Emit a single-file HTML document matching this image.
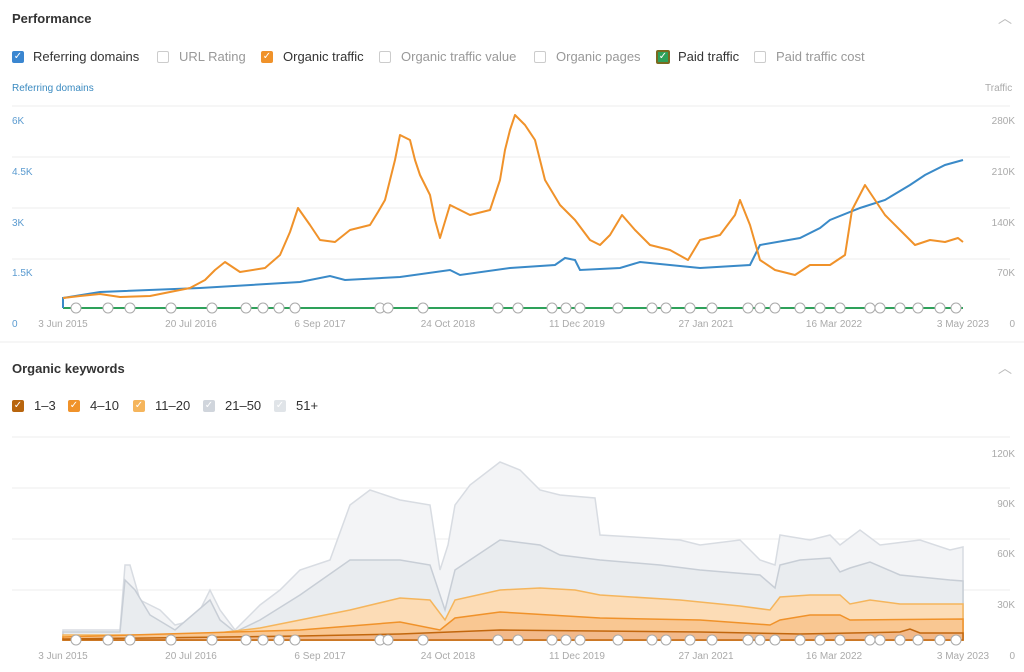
<!DOCTYPE html>
<html><head><meta charset="utf-8"><style>
body{margin:0;width:1024px;height:672px;background:#fff;font-family:"Liberation Sans",sans-serif;overflow:hidden;position:relative}
.t{position:absolute;white-space:nowrap}
.h{font-weight:bold;font-size:13px;color:#333}
.cb{position:absolute;width:12px;height:12px;border-radius:2px;box-sizing:border-box;color:#fff;font-size:10px;line-height:12px;text-align:center;font-family:"DejaVu Sans",sans-serif}
.lg{font-size:13px;color:#333}
.lgo{font-size:13px;color:#999}
</style></head><body>
<div class="t h" style="left:12px;top:11px">Performance</div>
<div class="t" style="left:998px;top:8px;color:#bbb;font-size:14px">︿</div>
<div class="cb" style="left:12px;top:51px;background:#3a86d0">✓</div><div class="t lg" style="left:33px;top:49px">Referring domains</div>
<div class="cb" style="left:157px;top:51px;border:1px solid #ccc"></div><div class="t lgo" style="left:179px;top:49px">URL Rating</div>
<div class="cb" style="left:261px;top:51px;background:#f0922a">✓</div><div class="t lg" style="left:283px;top:49px">Organic traffic</div>
<div class="cb" style="left:379px;top:51px;border:1px solid #ccc"></div><div class="t lgo" style="left:401px;top:49px">Organic traffic value</div>
<div class="cb" style="left:534px;top:51px;border:1px solid #ccc"></div><div class="t lgo" style="left:556px;top:49px">Organic pages</div>
<div class="cb" style="left:656px;top:50px;width:14px;height:14px;background:#2ea15a;border:2px solid #7a6a20;line-height:10px">✓</div><div class="t lg" style="left:678px;top:49px">Paid traffic</div>
<div class="cb" style="left:754px;top:51px;border:1px solid #ccc"></div><div class="t lgo" style="left:776px;top:49px">Paid traffic cost</div>
<div class="t" style="left:12px;top:83px;font-size:10px;color:#3a8ac0">Referring domains</div>
<div class="t" style="left:985px;top:83px;font-size:10px;color:#aaa">Traffic</div>

<div class="t h" style="left:12px;top:361px">Organic keywords</div>
<div class="t" style="left:998px;top:358px;color:#bbb;font-size:14px">︿</div>
<div class="cb" style="left:12px;top:400px;background:#b8650e">✓</div><div class="t lg" style="left:34px;top:398px">1–3</div>
<div class="cb" style="left:68px;top:400px;background:#f0922a">✓</div><div class="t lg" style="left:90px;top:398px">4–10</div>
<div class="cb" style="left:133px;top:400px;background:#f5b55c">✓</div><div class="t lg" style="left:155px;top:398px">11–20</div>
<div class="cb" style="left:203px;top:400px;background:#d0d5dc">✓</div><div class="t lg" style="left:225px;top:398px">21–50</div>
<div class="cb" style="left:274px;top:400px;background:#e0e4e8">✓</div><div class="t lg" style="left:296px;top:398px">51+</div>

<svg width="1024" height="672" style="position:absolute;left:0;top:0">
<g stroke="#eee" stroke-width="1">
<line x1="0" y1="342" x2="1024" y2="342"/>
<line x1="12" y1="106" x2="1010" y2="106"/><line x1="12" y1="157" x2="1010" y2="157"/><line x1="12" y1="208" x2="1010" y2="208"/><line x1="12" y1="259" x2="1010" y2="259"/>
<line x1="12" y1="437" x2="1010" y2="437"/><line x1="12" y1="488" x2="1010" y2="488"/><line x1="12" y1="539" x2="1010" y2="539"/><line x1="12" y1="590" x2="1010" y2="590"/>
</g>
<g font-family="Liberation Sans" font-size="10" fill="#5b9bd0">
<text x="12" y="124">6K</text><text x="12" y="175">4.5K</text><text x="12" y="226">3K</text><text x="12" y="276">1.5K</text><text x="12" y="327">0</text>
</g>
<g font-family="Liberation Sans" font-size="10" fill="#aaa" text-anchor="end">
<text x="1015" y="124">280K</text><text x="1015" y="175">210K</text><text x="1015" y="226">140K</text><text x="1015" y="276">70K</text><text x="1015" y="327">0</text>
<text x="1015" y="457">120K</text><text x="1015" y="507">90K</text><text x="1015" y="557">60K</text><text x="1015" y="608">30K</text><text x="1015" y="659">0</text>
</g>
<g font-family="Liberation Sans" font-size="10" fill="#aaa" text-anchor="middle">
<text x="63" y="327">3 Jun 2015</text><text x="191" y="327">20 Jul 2016</text><text x="320" y="327">6 Sep 2017</text><text x="448" y="327">24 Oct 2018</text><text x="577" y="327">11 Dec 2019</text><text x="706" y="327">27 Jan 2021</text><text x="834" y="327">16 Mar 2022</text><text x="963" y="327">3 May 2023</text>
<text x="63" y="659">3 Jun 2015</text><text x="191" y="659">20 Jul 2016</text><text x="320" y="659">6 Sep 2017</text><text x="448" y="659">24 Oct 2018</text><text x="577" y="659">11 Dec 2019</text><text x="706" y="659">27 Jan 2021</text><text x="834" y="659">16 Mar 2022</text><text x="963" y="659">3 May 2023</text>
</g>
<line x1="63" y1="308" x2="963" y2="308" stroke="#2ea15a" stroke-width="2"/>
<polyline fill="none" stroke="#3a8ac8" stroke-width="2" points="63,308 63,298 100,292 200,288 300,282 330,276 345,280 400,277 450,270 460,275 510,268 555,265 565,258 575,260 580,270 620,268 640,262 700,268 750,265 760,245 800,238 820,228 830,220 860,208 885,200 910,185 925,175 945,165 963,160"/>
<polyline fill="none" stroke="#f0922a" stroke-width="2" stroke-linejoin="round" points="63,298 80,296 100,294 120,297 150,296 170,292 190,288 205,280 215,270 225,262 240,272 265,268 280,255 290,232 298,208 310,225 320,240 335,242 350,230 370,225 378,212 385,200 390,180 395,160 400,135 410,140 415,160 420,175 430,195 435,220 440,238 450,205 470,215 490,210 500,180 505,150 510,130 515,115 525,125 535,140 540,160 545,180 560,205 575,220 590,240 600,245 610,235 622,215 635,230 650,245 670,250 688,260 700,240 720,235 735,215 740,200 750,225 760,260 775,270 795,275 810,265 830,265 845,255 852,210 865,185 875,200 885,215 900,230 915,245 930,240 945,242 958,238 963,242"/>

<polygon fill="#f3f4f6" stroke="#d8dce2" stroke-width="1.5" points="63,640 63,630 120,630 125,565 130,565 140,600 150,605 160,610 175,625 195,620 210,590 220,610 235,630 260,605 280,590 300,570 330,560 350,505 370,490 400,500 430,505 440,570 448,545 455,505 470,485 500,462 520,470 540,490 560,495 595,498 600,535 650,538 680,540 700,545 740,540 760,560 775,565 780,535 810,540 830,535 840,545 860,530 880,545 920,540 950,550 963,547 963,640"/>
<polygon fill="#e9ecef" stroke="#c8ced6" stroke-width="1.5" points="63,640 63,632 120,632 125,580 135,590 150,615 175,630 210,600 220,620 235,632 260,620 300,595 350,560 400,560 430,565 445,610 455,570 500,540 540,545 560,555 600,560 660,565 700,570 760,575 775,588 780,565 800,560 830,558 840,572 850,568 870,562 900,575 950,580 963,581 963,640"/>
<polygon fill="#fcdcb6" stroke="#f5b55c" stroke-width="1.5" points="63,640 63,635 200,635 260,628 300,620 350,610 400,598 430,600 445,620 455,600 500,590 540,588 575,590 600,595 680,600 740,606 770,610 780,597 810,595 840,595 850,604 870,600 900,604 963,604 963,640"/>
<polygon fill="#f9c792" stroke="#f0922a" stroke-width="1.5" points="63,640 63,637 300,630 400,622 440,630 455,618 500,612 600,618 700,620 770,625 780,620 810,615 840,615 850,620 963,619 963,640"/>
<polygon fill="#f2b98a" stroke="#c2670e" stroke-width="1.5" points="63,640 63,639 300,636 400,634 500,630 700,632 800,634 900,632 910,629 920,633 963,633 963,640"/>
<g fill="#fff" stroke="#aaa" stroke-width="1">
<g id="gs">
<circle cx="76" cy="308" r="5"/><circle cx="108" cy="308" r="5"/><circle cx="130" cy="308" r="5"/><circle cx="171" cy="308" r="5"/><circle cx="212" cy="308" r="5"/><circle cx="246" cy="308" r="5"/><circle cx="263" cy="308" r="5"/><circle cx="279" cy="308" r="5"/><circle cx="295" cy="308" r="5"/><circle cx="380" cy="308" r="5"/><circle cx="388" cy="308" r="5"/><circle cx="423" cy="308" r="5"/><circle cx="498" cy="308" r="5"/><circle cx="518" cy="308" r="5"/><circle cx="552" cy="308" r="5"/><circle cx="566" cy="308" r="5"/><circle cx="580" cy="308" r="5"/><circle cx="618" cy="308" r="5"/><circle cx="652" cy="308" r="5"/><circle cx="666" cy="308" r="5"/><circle cx="690" cy="308" r="5"/><circle cx="712" cy="308" r="5"/><circle cx="748" cy="308" r="5"/><circle cx="760" cy="308" r="5"/><circle cx="775" cy="308" r="5"/><circle cx="800" cy="308" r="5"/><circle cx="820" cy="308" r="5"/><circle cx="840" cy="308" r="5"/><circle cx="870" cy="308" r="5"/><circle cx="880" cy="308" r="5"/><circle cx="900" cy="308" r="5"/><circle cx="918" cy="308" r="5"/><circle cx="940" cy="308" r="5"/><circle cx="956" cy="308" r="5"/>
</g>
<use href="#gs" y="332"/>
</g>
</svg>
</body></html>
